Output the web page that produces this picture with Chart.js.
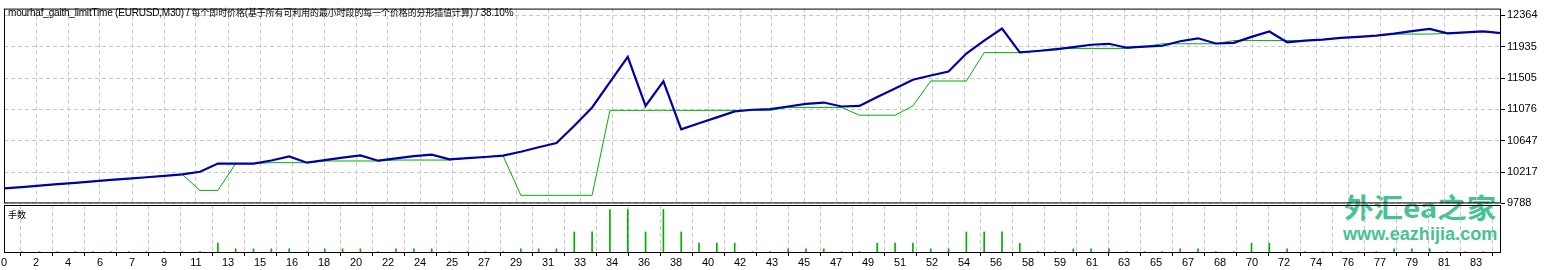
<!DOCTYPE html>
<html>
<head>
<meta charset="utf-8">
<script src="https://cdn.jsdelivr.net/npm/chart.js@4.4.1/dist/chart.umd.min.js"></script>
<style>
  html, body { margin: 0; padding: 0; background: #fff; }
  #wrap { position: relative; width: 1546px; height: 270px; overflow: hidden; font-family: "Liberation Sans", Arial, sans-serif; }
  canvas { position: absolute; left: 0; z-index: 1; }
  #top { top: 0; }
  #bot { top: 203px; }
  .lbl { position: absolute; z-index: 2; font-size: 10px; letter-spacing: -0.2px; line-height: 13px; color: #000; white-space: nowrap; }
  .cjk { font-family: "Noto Sans CJK SC", sans-serif; font-size: 8.9px; letter-spacing: 0; }
  .wm { position: absolute; z-index: 0; color: #47c292; font-weight: bold; white-space: nowrap; line-height: 1; transform-origin: 0 0; }
  #wm1 { left: 1344px; top: 193px; font-family: "Noto Sans CJK SC", sans-serif; font-size: 27px; }
  #wm2 { left: 1343px; top: 225px; font-family: "Liberation Sans", sans-serif; font-size: 18px; }
</style>
</head>
<body>
<div id="wrap">
  <div id="wm1" class="wm">外汇ea之家</div>
  <div id="wm2" class="wm">www.eazhijia.com</div>
  <canvas id="top" width="1546" height="212"></canvas>
  <canvas id="bot" width="1546" height="67"></canvas>
  <div class="lbl" style="left:8px; top:6px;">mourhaf_gaith_limitTime (EURUSD,M30) / <span class="cjk">每个即时价格</span>(<span class="cjk">基于所有可利用的最小时段的每一个价格的分形插值计算</span>) / 38.10%</div>
  <div class="lbl cjk" style="left:8px; top:208px; font-size:9px;">手数</div>
</div>
<script>
// Equity (blue) per trade
const equity = [
  9993, 10012, 10032, 10051, 10070, 10090, 10109, 10127, 10146, 10166,
  10185, 10221, 10333, 10333, 10333, 10376, 10432, 10346, 10381, 10415,
  10445, 10373, 10405, 10435, 10456, 10392, 10408, 10424, 10443, 10496,
  10557, 10614, 10852, 11103, 11449, 11795, 11124, 11460, 10802, 10887,
  10967, 11049, 11071, 11080, 11116, 11151, 11170, 11116, 11124, 11246,
  11362, 11483, 11540, 11594, 11841, 12019, 12184, 11858, 11876, 11898,
  11929, 11962, 11975, 11921, 11935, 11948, 12010, 12050, 11979, 11988,
  12069, 12144, 11996, 12019, 12033, 12055, 12069, 12086, 12113, 12149,
  12180, 12117, 12130, 12144, 12122
];

// Balance (green) per trade
const balance = [
  9993, 10012, 10032, 10051, 10070, 10090, 10109, 10127, 10146, 10166,
  10185, 9966, 9966, 10333, 10333, 10346, 10346, 10346, 10369, 10369,
  10369, 10369, 10382, 10382, 10382, 10382, 10408, 10424, 10443, 9899,
  9899, 9899, 9899, 9899, 11063, 11063, 11063, 11063, 11063, 11063,
  11063, 11063, 11063, 11063, 11103, 11103, 11103, 11103, 10996, 10996,
  10996, 11124, 11465, 11465, 11465, 11854, 11854, 11854, 11876, 11912,
  11912, 11912, 11912, 11912, 11935, 11975, 11975, 11975, 11975, 12019,
  12019, 12019, 12019, 12019, 12033, 12055, 12069, 12086, 12108, 12108,
  12108, 12117, 12130, 12144, 12122
];

// Lots per trade (lower panel)
const lots = [
  null, 0.01, 0.01, 0.01, 0.01, 0.01, 0.01, 0.01, 0.01, 0.01,
  0.01, 0.01, 0.04, 0.02, 0.02, 0.02, 0.02, 0.01, 0.02, 0.02,
  0.02, 0.01, 0.02, 0.02, 0.02, 0.01, 0.01, 0.01, 0.01, 0.02,
  0.02, 0.02, 0.08, 0.08, 0.16, 0.16, 0.08, 0.16, 0.08, 0.04,
  0.04, 0.04, 0.01, 0.01, 0.02, 0.02, 0.02, 0.01, 0.01, 0.04,
  0.04, 0.04, 0.02, 0.02, 0.08, 0.08, 0.08, 0.04, 0.01, 0.01,
  0.02, 0.02, 0.02, 0.01, 0.01, 0.01, 0.02, 0.02, 0.01, 0.01,
  0.04, 0.04, 0.02, 0.01, 0.01, 0.01, 0.01, 0.01, 0.02, 0.02,
  0.02, 0.01, 0.01, 0.01, 0.01
];

const xTickLabels = ['0', '2', '4', '6', '7', '9', '11', '13', '15', '16', '18', '20', '22', '24', '25', '27',
  '29', '31', '33', '34', '36', '38', '40', '42', '43', '45', '47', '49', '51', '52', '54', '56', '58', '59',
  '61', '63', '65', '67', '68', '70', '72', '74', '76', '77', '79', '81', '83'];
const yTickLabels = ['9788', '10217', '10647', '11076', '11505', '11935', '12364'];

const yMax = 12457;
const lotsMin = 0.005, lotsMax = 0.176;

// MT4 puts a grid line every 32 px across a 1497 px wide plot
const lastIdx = equity.length - 1;
const gridStep = 32 * lastIdx / 1497;
const yLow = Number(yTickLabels[0]);
const yHigh = Number(yTickLabels[yTickLabels.length - 1]);

const gridColor = '#c8c8c8';
const dash = [4, 3];
const tickFont = { family: 'Liberation Sans', size: 11 };

function xGridTicks(scale) {
  scale.ticks = xTickLabels.map((_, k) => ({ value: k * gridStep }));
}

const framePlugin = {
  id: 'frame',
  afterDraw(chart) {
    const { ctx, chartArea: a } = chart;
    ctx.save();
    ctx.strokeStyle = '#000';
    ctx.lineWidth = 1;
    ctx.strokeRect(a.left + 0.5, a.top + 0.5, a.right - a.left - 1, a.bottom - a.top - 1);
    ctx.restore();
  }
};

const pts = arr => arr.map((v, i) => ({ x: i, y: v }));

new Chart(document.getElementById('top'), {
  type: 'line',
  data: {
    datasets: [
      { data: pts(equity), borderColor: '#0000a8', borderWidth: 2.2, pointRadius: 0, tension: 0 },
      { data: pts(balance), borderColor: '#00b000', borderWidth: 1, pointRadius: 0, tension: 0 }
    ]
  },
  options: {
    responsive: false,
    animation: false,
    layout: { padding: { left: 4, top: 4, right: 0, bottom: 8 } },
    plugins: { legend: { display: false }, tooltip: { enabled: false } },
    scales: {
      x: {
        type: 'linear', min: 0, max: lastIdx,
        afterBuildTicks: xGridTicks,
        afterFit: s => { s.height = 0; },
        ticks: { display: false },
        grid: { color: gridColor, drawTicks: false },
        border: { display: false, dash: dash }
      },
      y: {
        position: 'right', min: yLow, max: yMax,
        afterBuildTicks: s => {
          s.ticks = yTickLabels.map((_, k) => ({ value: yLow + k * (yHigh - yLow) / (yTickLabels.length - 1) }));
        },
        afterFit: s => { s.width = 45; },
        ticks: { callback: (v, i) => yTickLabels[i], padding: 2, font: tickFont, color: '#000' },
        grid: { color: gridColor, tickColor: '#000', tickLength: 4, tickBorderDash: [] },
        border: { display: false, dash: dash }
      }
    }
  },
  plugins: [framePlugin]
});

new Chart(document.getElementById('bot'), {
  type: 'bar',
  data: {
    datasets: [{ data: pts(lots), backgroundColor: '#00b000', barThickness: 1, borderWidth: 0 }]
  },
  options: {
    responsive: false,
    animation: false,
    layout: { padding: { left: 4, top: 2, right: 0, bottom: 0 } },
    plugins: { legend: { display: false }, tooltip: { enabled: false } },
    scales: {
      x: {
        type: 'linear', min: 0, max: lastIdx, offset: false,
        afterBuildTicks: xGridTicks,
        afterFit: s => { s.height = 17; },
        ticks: { callback: (v, i) => xTickLabels[i], autoSkip: false, maxRotation: 0, padding: 0, font: tickFont, color: '#000' },
        grid: { color: gridColor, tickColor: '#000', tickLength: 3, tickBorderDash: [] },
        border: { display: false, dash: dash }
      },
      y: {
        position: 'right', min: lotsMin, max: lotsMax,
        afterFit: s => { s.width = 45; },
        ticks: { display: false },
        grid: { display: false },
        border: { display: false }
      }
    }
  },
  plugins: [framePlugin]
});

// squeeze the watermark lines to their measured widths
[['wm1', 152], ['wm2', 154]].forEach(([id, w]) => {
  const el = document.getElementById(id);
  el.style.transform = 'scaleX(' + (w / el.offsetWidth) + ')';
});
</script>
</body>
</html>
